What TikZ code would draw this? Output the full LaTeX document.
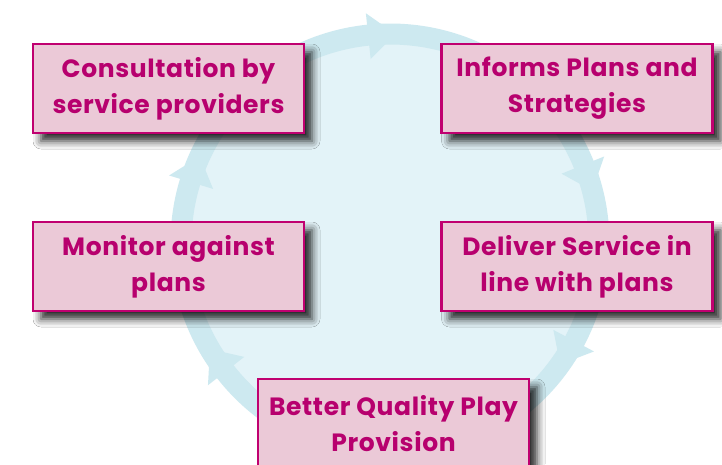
\documentclass[tikz,border=0pt]{standalone}
\usepackage{fontspec}
\newfontfamily\boxfont{Poppins}[BoldFont={Poppins Bold}, LetterSpace=2.5]
\usetikzlibrary{shadows.blur}

\definecolor{ringblue}{RGB}{205,233,240}
\definecolor{discblue}{RGB}{227,243,248}
\definecolor{boxpink}{RGB}{235,201,215}
\definecolor{boxedge}{RGB}{192,0,112}
\definecolor{boxtext}{RGB}{183,0,110}

\tikzset{
  stagebox/.style={
    draw=boxedge, line width=2.6pt, fill=boxpink,
    minimum width=271pt, minimum height=89pt,
    inner sep=0pt, align=center, text=boxtext,
    font=\boxfont\bfseries\fontsize{25}{36}\selectfont,
    blur shadow={shadow xshift=8pt, shadow yshift=-8pt,
      shadow blur radius=8pt, shadow opacity=85}
  },
  cyclehead/.style={fill=ringblue}
}

\begin{document}
\begin{tikzpicture}[x=1pt,y=-1pt]
  \useasboundingbox (0,0) rectangle (722,464);
  \fill[white] (0,0) rectangle (722,464);

  % the cycle: pale disc with a ring around it
  \coordinate (ctr) at (390,243);
  \fill[discblue] (ctr) circle[radius=209pt];
  \draw[ringblue, line width=21pt] (ctr) circle[radius=209pt];

  % clockwise arrowheads on the ring (back edge angle)
  \foreach \a in {96,22,-28,218,163}{
    \fill[cyclehead]
      ([shift={(ctr)}] \a:231pt) --
      ([shift={(ctr)}] \a:185pt) --
      ([shift={(ctr)}] \a-7.5:209pt) -- cycle;
  }

  % stages
  \node[stagebox] (consult) at (168.5,88.5) {Consultation by\\service providers};
  \node[stagebox] (informs) at (577,88.5) {Informs Plans and\\Strategies};
  \node[stagebox] (monitor) at (168.5,266.5) {Monitor against\\plans};
  \node[stagebox] (deliver) at (577,266.5) {Deliver Service in\\line with plans};
  \node[stagebox] (better) at (393.5,423.5) {Better Quality Play\\Provision};
\end{tikzpicture}
\end{document}
